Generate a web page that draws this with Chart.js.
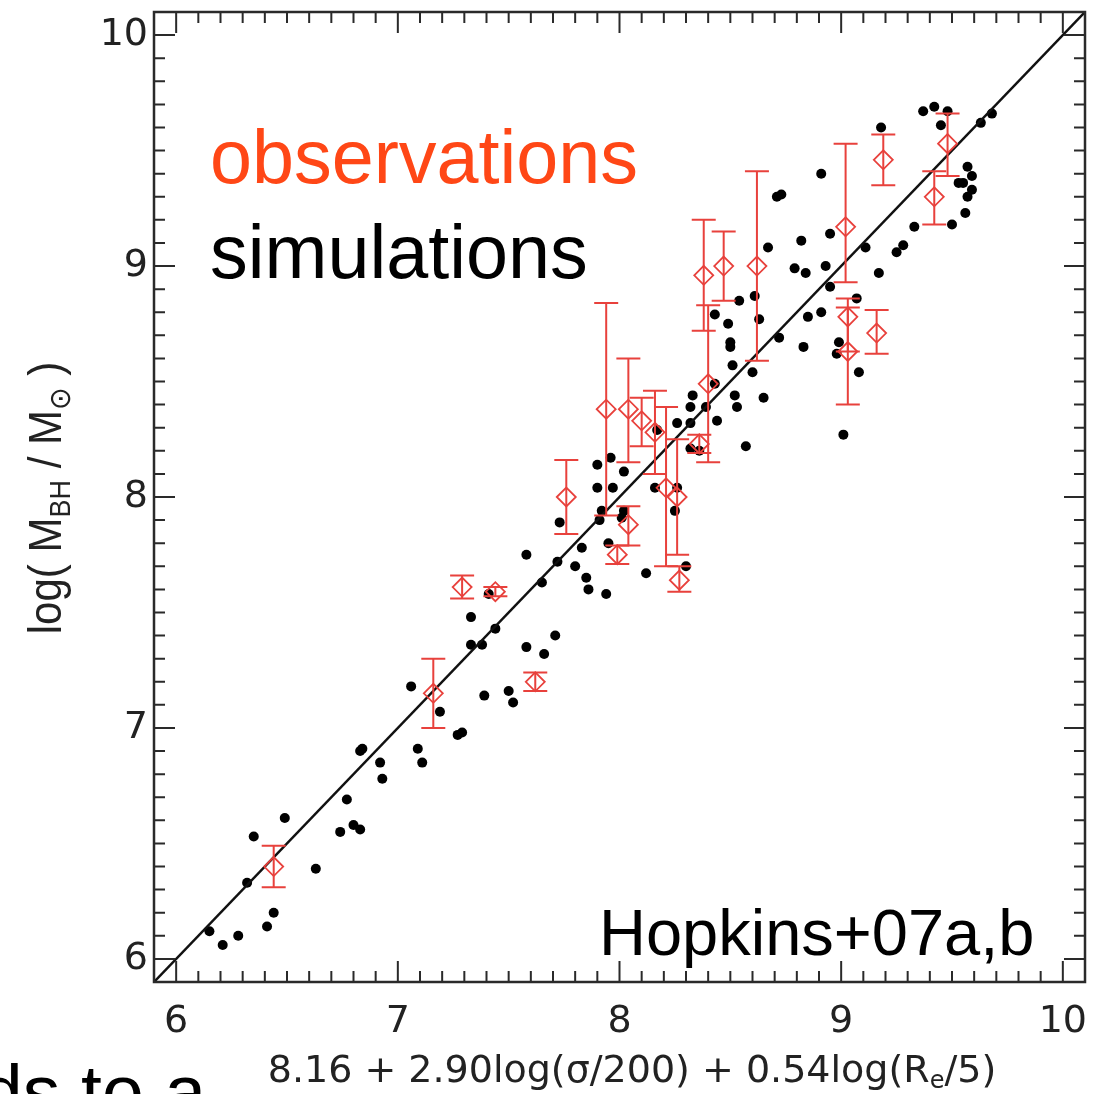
<!DOCTYPE html>
<html><head><meta charset="utf-8">
<script src="https://cdn.jsdelivr.net/npm/chart.js@4.4.0/dist/chart.umd.min.js"></script>
<style>
html,body{margin:0;padding:0;background:#fff;overflow:hidden;}
#c{display:block;}
</style></head>
<body>
<canvas id="c" width="1114" height="1094" style="width:1114px;height:1094px"></canvas>
<script>
// ---- data ----
const simX = [6.15,6.21,6.28,6.32,6.35,6.41,6.44,6.49,6.63,6.74,6.80,6.83,6.77,6.92,6.93,6.83,6.84,
  7.06,7.09,7.11,7.19,7.27,7.29,7.33,7.33,7.38,7.44,7.39,7.50,7.52,7.58,7.66,7.71,7.41,7.58,7.65,7.72,
  7.73,7.80,7.83,7.85,7.86,7.94,7.90,7.97,8.02,7.90,7.96,7.92,7.91,8.02,8.01,7.95,8.12,8.16,8.17,8.26,
  8.32,8.33,8.32,8.39,8.43,8.44,8.52,8.53,8.65,8.57,8.32,8.36,8.26,8.25,8.30,8.43,8.49,8.50,8.50,8.51,
  8.54,8.61,8.63,8.60,8.72,8.83,8.85,8.91,8.95,8.99,8.98,9.07,9.08,9.01,9.37,9.42,9.48,9.45,9.18,8.91,
  8.71,8.73,8.67,8.82,8.79,8.84,8.93,8.95,9.11,9.17,9.25,9.28,9.33,9.50,9.57,9.59,9.53,9.55,9.59,9.57,
  9.56,9.63,9.68];
const simY = [6.12,6.06,6.10,6.33,6.53,6.14,6.20,6.61,6.39,6.55,6.58,6.56,6.69,6.85,6.78,6.90,6.91,
  7.18,6.91,6.85,7.07,6.97,6.98,7.48,7.36,7.36,7.43,7.14,7.16,7.11,7.35,7.32,7.40,7.58,7.75,7.63,7.72,
  7.89,7.70,7.78,7.65,7.60,7.58,8.04,8.04,8.11,8.14,8.17,7.94,7.90,7.94,7.91,7.80,7.67,8.04,8.29,8.32,
  8.32,8.44,8.39,8.39,8.49,8.33,8.44,8.39,8.43,8.22,8.21,8.20,8.04,7.94,7.70,8.79,8.75,8.67,8.65,8.57,
  8.85,8.87,8.77,8.54,8.69,8.65,8.78,8.80,8.91,8.67,8.62,8.86,8.54,8.27,9.67,9.69,9.67,9.61,9.60,9.40,
  9.30,9.31,9.08,9.11,8.99,8.97,9.00,9.14,9.08,8.97,9.06,9.09,9.17,9.18,9.43,9.39,9.36,9.36,9.33,9.30,
  9.23,9.62,9.66];

const obsX  = [6.44,7.16,7.29,7.44,7.62,7.76,8.04,7.99,7.94,8.04,8.10,8.16,8.21,8.26,8.27,8.36,8.40,8.38,8.47,8.62,9.02,9.03,9.03,9.16,9.19,9.48,9.42];
const obsY  = [6.40,7.15,7.61,7.59,7.20,8.00,7.88,7.75,8.38,8.38,8.33,8.28,8.04,8.00,7.64,8.23,8.49,8.96,9.00,9.00,9.17,8.78,8.63,8.71,9.46,9.53,9.30];
const obsLo = [6.31,7.00,7.56,7.57,7.16,7.84,7.79,7.71,7.92,8.15,8.22,8.10,7.70,7.75,7.59,8.19,8.15,8.72,8.85,8.59,8.93,8.63,8.40,8.62,9.35,9.39,9.18];
const obsHi = [6.49,7.30,7.66,7.61,7.24,8.16,7.96,7.79,8.84,8.60,8.43,8.46,8.39,8.25,7.70,8.27,8.83,9.20,9.15,9.41,9.53,8.86,8.82,8.81,9.57,9.66,9.41];

const fitX = [5.9, 10.1];
const fitY = [5.9, 10.1];

const axisMin = 5.9, axisMax = 10.1;
const tickVals = [6, 7, 8, 9, 10];

// ---- styles ----
const RED = '#e8413c';
const ORANGE = '#ff4716';
const AXIS = '#2a2a2a';

const pts = (xs, ys) => xs.map((v, i) => ({x: v, y: ys[i]}));

function drawParts(ctx, parts, startX, baseY) {
  let cx = startX;
  parts.forEach(p => {
    ctx.font = p.font;
    ctx.fillText(p.t, cx, baseY + (p.dy || 0));
    cx += ctx.measureText(p.t).width;
  });
}
function partsWidth(ctx, parts) {
  let w = 0;
  parts.forEach(p => { ctx.font = p.font; w += ctx.measureText(p.t).width; });
  return w;
}

const decor = {
  id: 'decor',
  afterDatasetsDraw(chart) {
    const {ctx, scales: {x, y}} = chart;
    ctx.save();
    ctx.strokeStyle = RED;
    ctx.lineWidth = 2;
    obsX.forEach((v, i) => {
      const px = x.getPixelForValue(v);
      const lo = y.getPixelForValue(obsLo[i]);
      const hi = y.getPixelForValue(obsHi[i]);
      ctx.beginPath();
      ctx.moveTo(px, lo); ctx.lineTo(px, hi);
      ctx.moveTo(px - 12, lo); ctx.lineTo(px + 12, lo);
      ctx.moveTo(px - 12, hi); ctx.lineTo(px + 12, hi);
      ctx.stroke();
    });
    ctx.restore();
  },
  afterDraw(chart) {
    const {ctx, chartArea: a, scales: {x, y}} = chart;
    ctx.save();
    // frame
    ctx.strokeStyle = AXIS;
    ctx.lineWidth = 2.5;
    ctx.strokeRect(a.left, a.top, a.right - a.left, a.bottom - a.top);
    // inward ticks on all sides
    ctx.lineWidth = 2;
    ctx.beginPath();
    for (let i = 59; i <= 101; i++) {
      const v = i / 10;
      if (v <= axisMin + 1e-9 || v >= axisMax - 1e-9) continue;
      const len = (i % 10 === 0) ? 21 : 11;
      const px = x.getPixelForValue(v);
      const py = y.getPixelForValue(v);
      ctx.moveTo(px, a.bottom); ctx.lineTo(px, a.bottom - len);
      ctx.moveTo(px, a.top); ctx.lineTo(px, a.top + len);
      ctx.moveTo(a.left, py); ctx.lineTo(a.left + len, py);
      ctx.moveTo(a.right, py); ctx.lineTo(a.right - len, py);
    }
    ctx.stroke();

    // x title
    ctx.fillStyle = '#222';
    ctx.textAlign = 'left';
    ctx.textBaseline = 'alphabetic';
    const xf = "38px 'DejaVu Sans'";
    const xs = "24px 'DejaVu Sans'";
    const xParts = [
      {t: '8.16 + 2.90log(\u03c3/200) + 0.54log(R', font: xf},
      {t: 'e', font: xs, dy: 6},
      {t: '/5)', font: xf}
    ];
    const xw = partsWidth(ctx, xParts);
    drawParts(ctx, xParts, 632 - xw / 2, 1082);

    // y title (rotated)
    const yf = "42px 'Liberation Sans'";
    const ys = "27px 'Liberation Sans'";
    const yParts = [
      {t: 'log( M', font: yf},
      {t: 'BH', font: ys, dy: 8},
      {t: ' / M', font: yf},
      {t: '\u2299', font: "27px 'DejaVu Sans'", dy: 8},
      {t: ' )', font: yf}
    ];
    ctx.save();
    ctx.translate(61, 498);
    ctx.scale(1.1, 1);
    ctx.rotate(-Math.PI / 2);
    const yw = partsWidth(ctx, yParts);
    drawParts(ctx, yParts, -yw / 2, 0);
    ctx.restore();

    // annotations
    ctx.font = "75.5px 'Liberation Sans'";
    ctx.fillStyle = ORANGE;
    ctx.fillText('observations', 210, 183);
    ctx.fillStyle = '#000';
    ctx.fillText('simulations', 210, 278);
    ctx.font = "65px 'Liberation Sans'";
    ctx.fillText('Hopkins+07a,b', 599, 955);
    ctx.font = "75px 'Liberation Sans'";
    ctx.fillText('ds to a', -19, 1117);
    ctx.restore();
  }
};

new Chart(document.getElementById('c'), {
  data: {
    datasets: [
      {type: 'line', label: 'fit', data: pts(fitX, fitY), borderColor: '#111', borderWidth: 2.5,
       pointRadius: 0, fill: false, order: 2},
      {type: 'scatter', label: 'simulations', data: pts(simX, simY), pointStyle: 'circle',
       pointRadius: 5, backgroundColor: '#000', borderWidth: 0, order: 3},
      {type: 'scatter', label: 'observations', data: pts(obsX, obsY), pointStyle: 'rectRot',
       pointRadius: 9.5, backgroundColor: 'rgba(0,0,0,0)', borderColor: RED, borderWidth: 1.8, order: 1}
    ]
  },
  options: {
    responsive: false,
    animation: false,
    layout: {padding: {top: 12, right: 29, left: 0, bottom: 0}},
    plugins: {legend: {display: false}, tooltip: {enabled: false}},
    scales: {
      x: {
        type: 'linear', min: axisMin, max: axisMax,
        afterBuildTicks: s => { s.ticks = tickVals.map(v => ({value: v})); },
        afterFit: s => { s.height = 112; s.paddingLeft = 0; s.paddingRight = 0; },
        grid: {display: false, drawTicks: false},
        border: {display: false},
        ticks: {font: {family: 'DejaVu Sans', size: 38}, color: '#222', padding: 17,
                maxRotation: 0, autoSkip: false}
      },
      y: {
        type: 'linear', min: axisMin, max: axisMax,
        afterBuildTicks: s => { s.ticks = tickVals.map(v => ({value: v})); },
        afterFit: s => { s.width = 154; s.paddingTop = 0; s.paddingBottom = 0; },
        grid: {display: false, drawTicks: false},
        border: {display: false},
        ticks: {font: {family: 'DejaVu Sans', size: 38}, color: '#222', padding: 6, autoSkip: false}
      }
    }
  },
  plugins: [decor]
});
</script>
</body></html>
